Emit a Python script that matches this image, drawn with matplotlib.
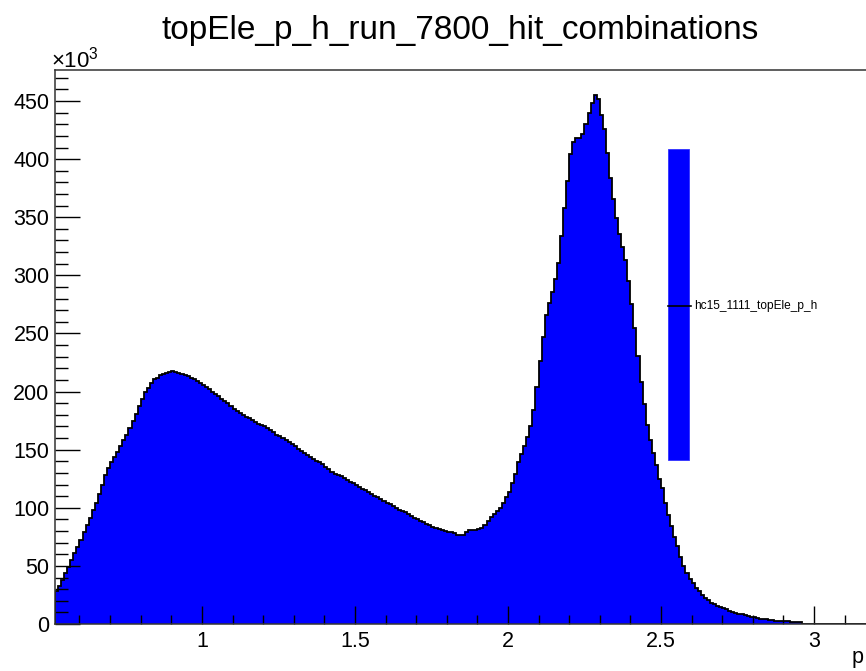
import numpy as np
import matplotlib
matplotlib.use("Agg")
import matplotlib.pyplot as plt
from matplotlib.patches import Rectangle
from matplotlib.lines import Line2D
from matplotlib.ticker import MultipleLocator

plt.rcParams["font.family"] = ["Liberation Sans", "DejaVu Sans"]
plt.rcParams["mathtext.fontset"] = "custom"
plt.rcParams["mathtext.rm"] = "Liberation Sans"

title = "topEle_p_h_run_7800_hit_combinations"
legend_label = "hc15_1111_topEle_p_h"
x_label = "p"

# histogram binning: 0.01 wide bins starting at 0.52
bin_start = 0.52
bin_width = 0.01

# bin contents in thousands of entries
counts = [
    28, 33, 38, 44, 49, 55, 61, 66, 72, 79,
    85, 91, 98, 104, 112, 120, 128, 134, 139, 144,
    148, 153, 158, 163, 169, 175, 181, 188, 194, 200,
    203, 207, 211, 212, 214, 215, 216, 217, 217.5, 217,
    216, 215.5, 214.5, 213.5, 212, 211, 209, 207.5, 205.5, 204,
    202, 200, 198, 196, 194, 192, 190, 188, 185, 183,
    181.5, 180, 178.5, 177, 175.5, 174, 172.5, 171, 170, 168.5,
    167, 165, 163, 161.5, 160, 158, 156.5, 154.5, 153, 151,
    149, 147, 145.5, 144, 142, 140.5, 139, 137.5, 135, 133,
    131, 129, 128, 127, 125.5, 124, 122.5, 121, 119.5, 118,
    116.5, 115, 113.5, 112, 110.5, 109, 107.5, 106, 104.5, 103,
    101.5, 100, 98.5, 97, 96, 94.5, 93, 91.5, 90, 89,
    87.5, 86, 85, 83.5, 82.5, 81.5, 80.5, 80, 79.5, 79,
    78.5, 77, 76.5, 77, 79.5, 80.5, 80.5, 80.5, 81.5, 82.5,
    85, 88.5, 92, 94.5, 97, 100, 104, 109, 114, 121,
    129, 139, 146, 153, 161, 170, 184, 204, 226, 247,
    266, 276, 286, 297, 311, 334, 358, 381, 404, 415,
    418, 418.5, 422, 430, 440, 448, 455, 452, 438, 426,
    405, 384, 366, 349, 336, 324, 313, 295, 275, 255,
    231, 208, 189, 171, 158, 147, 137, 125, 117, 104,
    94, 84, 75, 67, 58, 50, 44, 39, 35, 31,
    28, 25, 22.5, 20.5, 18.5, 17, 15.5, 14.5, 13.5, 12.5,
    11.5, 10.5, 9.7, 8.9, 8.2, 7.5, 6.8, 6.2, 5.6, 5.1,
    4.7, 4.3, 3.9, 3.6, 3.3, 3.0, 2.8, 2.6, 2.4, 2.2,
    2.0, 1.9, 1.8, 1.7, 0, 0, 0, 0, 0, 0,
    0, 0, 0, 0, 0, 0, 0, 0, 0, 0,
    0, 0, 0, 0, 0, 0, 0, 0,
]

edges = bin_start + bin_width * np.arange(len(counts) + 1)

W, H = 866, 671
fig = plt.figure(figsize=(W / 100, H / 100), dpi=100)

# axes frame runs past the right edge of the canvas, as in the original
left, bottom, top = 55, 624, 70
right = 875.2
ax = fig.add_axes([left / W, 1 - bottom / H, (right - left) / W, (bottom - top) / H])

ax.stairs(counts, edges, fill=True, color="#0000ff", baseline=0)
ax.stairs(counts, edges, color="black", lw=1.3, baseline=0)

ax.set_xlim(0.52, 3.2)
ax.set_ylim(0, 476.7)

ax.xaxis.set_major_locator(MultipleLocator(0.5))
ax.xaxis.set_minor_locator(MultipleLocator(0.1))
ax.yaxis.set_major_locator(MultipleLocator(50))
ax.yaxis.set_minor_locator(MultipleLocator(10))
ax.xaxis.set_major_formatter(plt.FuncFormatter(lambda v, p: f"{v:g}"))

ax.tick_params(axis="x", which="major", direction="in", length=12.7, width=1.0,
               labelsize=15.5, pad=5, top=False)
ax.tick_params(axis="x", which="minor", direction="in", length=6.7, width=1.0, top=False)
ax.tick_params(axis="y", which="major", direction="in", length=18, width=1.0,
               labelsize=15.5, pad=4, right=False)
ax.tick_params(axis="y", which="minor", direction="in", length=9.4, width=1.0, right=False)

for s in ax.spines.values():
    s.set_color("#333333")
    s.set_linewidth(1.1)

fig.text(460 / W, 1 - 30 / H, title, ha="center", va="center", fontsize=24)
fig.text(51 / W, 1 - 60 / H, r"$\times10^{3}$", ha="left", va="center", fontsize=16)
fig.text(858 / W, 1 - 658 / H, x_label, ha="center", va="center", fontsize=15.5)

# ROOT style legend entry
fig.patches.append(Rectangle((667.7 / W, 1 - 460 / H), 21.6 / W, 310.7 / H,
                             transform=fig.transFigure, facecolor="#0000ff",
                             edgecolor="#3030ff", lw=0.6))
fig.lines.append(Line2D([667.7 / W, 691 / W], [1 - 306 / H, 1 - 306 / H],
                        transform=fig.transFigure, color="black", lw=1.2))
fig.text(694 / W, 1 - 306 / H, legend_label, ha="left", va="center", fontsize=8.6)

fig.savefig("out.png", dpi=100)
